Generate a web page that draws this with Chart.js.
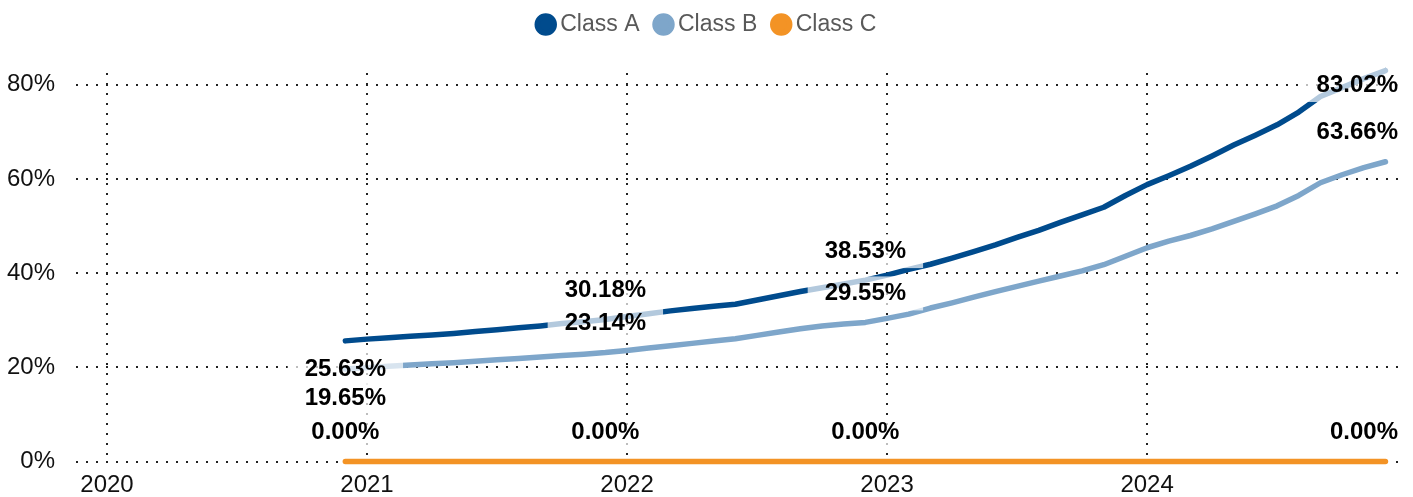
<!DOCTYPE html>
<html>
<head>
<meta charset="utf-8">
<script src="https://cdn.jsdelivr.net/npm/chart.js@4.4.1/dist/chart.umd.min.js"></script>
<style>
    html, body { margin: 0; padding: 0; background: #fff; }
    #wrap { width: 1413px; height: 497px; position: relative; }
</style>
</head>
<body>
<div id="wrap"><canvas id="classChart"></canvas></div>
<script>
// Monthly observations
const months = [
    '2020-12',
    '2021-01', '2021-02', '2021-03', '2021-04', '2021-05', '2021-06',
    '2021-07', '2021-08', '2021-09', '2021-10', '2021-11', '2021-12',
    '2022-01', '2022-02', '2022-03', '2022-04', '2022-05', '2022-06',
    '2022-07', '2022-08', '2022-09', '2022-10', '2022-11', '2022-12',
    '2023-01', '2023-02', '2023-03', '2023-04', '2023-05', '2023-06',
    '2023-07', '2023-08', '2023-09', '2023-10', '2023-11', '2023-12',
    '2024-01', '2024-02', '2024-03', '2024-04', '2024-05', '2024-06',
    '2024-07', '2024-08', '2024-09', '2024-10', '2024-11', '2024-12'
];

const classA = [
    25.63,
    26.0, 26.3, 26.6, 26.9, 27.2, 27.6, 28.0, 28.4, 28.8, 29.3, 29.7, 30.18,
    30.8, 31.4, 32.0, 32.5, 33.0, 33.4, 34.3, 35.2, 36.1, 36.9, 37.7, 38.53,
    39.6, 40.8, 41.9, 43.2, 44.6, 46.0, 47.6, 49.1, 50.8, 52.4, 54.0, 56.5,
    58.8, 60.7, 62.7, 64.9, 67.2, 69.3, 71.5, 74.2, 77.5, 79.4, 81.3, 83.02
];

const classB = [
    19.65,
    19.95, 20.25, 20.5, 20.75, 21.0, 21.3, 21.6, 21.9, 22.2, 22.5, 22.8, 23.14,
    23.6, 24.1, 24.6, 25.1, 25.6, 26.1, 26.8, 27.5, 28.2, 28.8, 29.2, 29.55,
    30.4, 31.3, 32.6, 33.7, 34.9, 36.1, 37.2, 38.3, 39.4, 40.5, 41.8, 43.6,
    45.4, 46.8, 48.0, 49.4, 51.0, 52.6, 54.3, 56.5, 59.2, 60.9, 62.4, 63.66
];

const classC = [
    0,
    0, 0, 0, 0, 0, 0, 0, 0, 0, 0, 0, 0,
    0, 0, 0, 0, 0, 0, 0, 0, 0, 0, 0, 0,
    0, 0, 0, 0, 0, 0, 0, 0, 0, 0, 0, 0,
    0, 0, 0, 0, 0, 0, 0, 0, 0, 0, 0, 0
];

const yearTicks = [2020, 2021, 2022, 2023, 2024];
const percentTicks = [0, 20, 40, 60, 80];

// which points get a value label, and whether it sits above (-1) or below (1)
const labelIdx = [0, 12, 24, 48];
const labelSide = {
    'Class A': [1, -1, -1, -1],
    'Class B': [1, -1, -1, -1],
    'Class C': [-1, -1, -1, -1]
};

const FONT = '"Liberation Sans", Arial, Helvetica, sans-serif';
Chart.defaults.font.family = FONT;

// months since Jan 2020
function monthPos(s) {
    const [y, m] = s.split('-').map(Number);
    return (y - 2020) * 12 + (m - 1);
}

function toPoints(values) {
    return months.map((m, i) => ({ x: monthPos(m), y: values[i] }));
}

const valueLabels = {
    id: 'valueLabels',
    afterDatasetsDraw(chart) {
        const ctx = chart.ctx;
        const area = chart.chartArea;
        const items = [];
        ctx.save();
        ctx.font = 'bold 24px ' + FONT;
        ctx.textAlign = 'center';
        ctx.textBaseline = 'middle';
        chart.data.datasets.forEach((ds, di) => {
            const meta = chart.getDatasetMeta(di);
            labelIdx.forEach((idx, k) => {
                const pt = meta.data[idx];
                const text = ds.data[idx].y.toFixed(2) + '%';
                const w = ctx.measureText(text).width;
                let x = pt.x;
                let y = pt.y + labelSide[ds.label][k] * 29;
                x = Math.min(Math.max(x, area.left + w / 2), area.right - w / 2);
                y = Math.max(y, area.top + 12);
                items.push({ text, x, y, w });
            });
        });
        ctx.fillStyle = 'rgba(255, 255, 255, 0.7)';
        items.forEach(it => ctx.fillRect(it.x - it.w / 2 - 17, it.y - 17, it.w + 34, 34));
        ctx.fillStyle = '#000';
        items.forEach(it => ctx.fillText(it.text, it.x, it.y));
        ctx.restore();
    }
};

// fixed legend height, and nudge legend to the page centre
const legendFit = {
    id: 'legendFit',
    beforeLayout(chart) {
        const legend = chart.legend;
        if (legend && !legend._patched) {
            const fit = legend.fit;
            legend.fit = function() {
                fit.call(this);
                this.height = 81;
            };
            legend._patched = true;
        }
    },
    afterLayout(chart) {
        chart.legend.left += 8;
        chart.legend.right += 8;
    }
};

const lineStyle = {
    borderWidth: 5.5,
    borderCapStyle: 'round',
    borderJoinStyle: 'round',
    pointRadius: 0,
    tension: 0,
    clip: false
};

const ctx = document.getElementById('classChart').getContext('2d');
const classChart = new Chart(ctx, {
    type: 'line',
    data: {
        datasets: [
            {
                label: 'Class A',
                data: toPoints(classA),
                borderColor: '#004b8d',
                backgroundColor: '#004b8d',
                ...lineStyle
            },
            {
                label: 'Class B',
                data: toPoints(classB),
                borderColor: '#7ea6ca',
                backgroundColor: '#7ea6ca',
                ...lineStyle
            },
            {
                label: 'Class C',
                data: toPoints(classC),
                borderColor: '#f39325',
                backgroundColor: '#f39325',
                ...lineStyle
            }
        ]
    },
    options: {
        responsive: true,
        maintainAspectRatio: false,
        animation: false,
        layout: {
            padding: { top: -8, left: 5, right: 15, bottom: 0 }
        },
        scales: {
            x: {
                type: 'linear',
                min: -1.43,
                max: 59.58,
                afterBuildTicks: (scale) => {
                    scale.ticks = yearTicks.map(y => ({ value: (y - 2020) * 12 }));
                },
                afterFit: (scale) => {
                    scale.height = 30.6;
                },
                grid: {
                    color: '#222',
                    lineWidth: 2,
                    drawTicks: false
                },
                border: {
                    display: false,
                    dash: [2, 8]
                },
                ticks: {
                    padding: 9,
                    color: '#111',
                    font: { size: 24 },
                    maxRotation: 0,
                    callback: (value) => String(2020 + value / 12)
                }
            },
            y: {
                min: 0,
                max: 82.5,
                afterBuildTicks: (scale) => {
                    scale.ticks = percentTicks.map(v => ({ value: v }));
                },
                afterFit: (scale) => {
                    scale.width = 71;
                },
                grid: {
                    color: '#222',
                    lineWidth: 2,
                    drawTicks: false
                },
                border: {
                    display: false,
                    dash: [2, 8]
                },
                ticks: {
                    padding: 21,
                    color: '#111',
                    font: { size: 24 },
                    callback: (value) => value + '%'
                }
            }
        },
        plugins: {
            legend: {
                position: 'top',
                labels: {
                    usePointStyle: true,
                    pointStyle: 'circle',
                    boxWidth: 6,
                    boxHeight: 12,
                    padding: 21,
                    color: '#595959',
                    font: { size: 23 }
                }
            },
            tooltip: { enabled: false }
        }
    },
    plugins: [valueLabels, legendFit]
});
</script>
</body>
</html>
